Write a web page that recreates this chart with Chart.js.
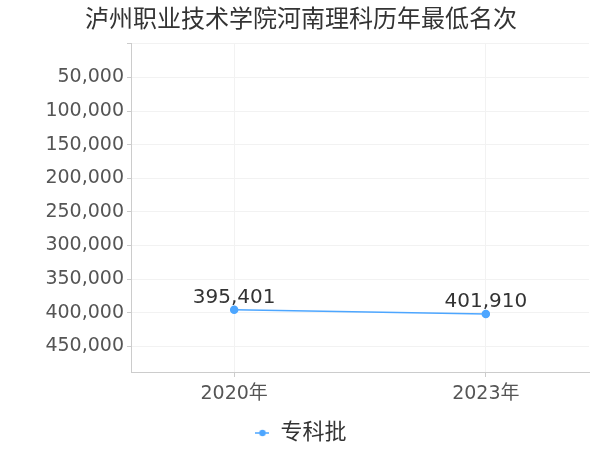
<!DOCTYPE html>
<html>
<head>
<meta charset="utf-8">
<script src="https://cdn.jsdelivr.net/npm/chart.js@4/dist/chart.umd.min.js"></script>
<style>
  html, body { margin: 0; padding: 0; background: #fff; }
  #wrap { width: 600px; height: 450px; }
</style>
</head>
<body>
<div id="wrap"><canvas id="c" width="600" height="450"></canvas></div>
<script>
const categories = ["2020年", "2023年"];
const seriesName = "专科批";
const minRank = [395401, 401910];
const yTicks = [0, 50000, 100000, 150000, 200000, 250000, 300000, 350000, 400000, 450000];

const FONT = '"DejaVu Sans", "Noto Sans CJK SC", sans-serif';
const LINE = "#4da6ff";

// legend marker: short line with a dot
const marker = document.createElement("canvas");
marker.width = 14; marker.height = 8;
(function () {
  const g = marker.getContext("2d");
  g.strokeStyle = LINE; g.lineWidth = 1.5;
  g.beginPath(); g.moveTo(0, 4); g.lineTo(14, 4); g.stroke();
  g.fillStyle = LINE;
  g.beginPath(); g.arc(7, 4, 3.2, 0, Math.PI * 2); g.fill();
})();

// value labels above the points
const valueLabels = {
  id: "valueLabels",
  afterDatasetsDraw(chart) {
    const ctx = chart.ctx;
    const meta = chart.getDatasetMeta(0);
    ctx.save();
    ctx.font = "20px " + FONT;
    ctx.fillStyle = "#333";
    ctx.textAlign = "center";
    ctx.textBaseline = "bottom";
    meta.data.forEach((pt, i) => {
      ctx.fillText(minRank[i].toLocaleString("en-US"), pt.x, pt.y - 2);
    });
    ctx.restore();
  }
};

const ctx = document.getElementById("c").getContext("2d");
new Chart(ctx, {
  type: "line",
  data: {
    datasets: [{
      label: seriesName,
      data: minRank.map((v, i) => ({ x: i, y: v })),
      borderColor: LINE,
      backgroundColor: LINE,
      borderWidth: 1.5,
      pointRadius: 3.5,
      pointHoverRadius: 3.5,
      pointStyle: "circle",
      tension: 0
    }]
  },
  plugins: [valueLabels],
  options: {
    responsive: false,
    animation: false,
    layout: { padding: { left: 13, right: 11, top: 0, bottom: -4 } },
    plugins: {
      title: {
        display: true,
        text: "泸州职业技术学院河南理科历年最低名次",
        color: "#333",
        font: { family: FONT, size: 24, weight: "normal" },
        padding: { top: 6, bottom: 9 }
      },
      legend: {
        position: "bottom",
        labels: {
          usePointStyle: true,
          pointStyle: marker,
          pointStyleWidth: 14,
          color: "#333",
          font: { family: FONT, size: 22 },
          padding: 2
        }
      },
      tooltip: { enabled: false }
    },
    scales: {
      x: {
        type: "linear",
        min: -0.41,
        max: 1.41,
        afterBuildTicks: (axis) => { axis.ticks = categories.map((c, i) => ({ value: i })); },
        afterFit: (axis) => { axis.height = 48; },
        ticks: {
          color: "#555",
          font: { family: FONT, size: 19 },
          padding: 6,
          callback: (v) => categories[v]
        },
        grid: { color: "#f2f2f2", tickColor: "#ccc", tickLength: 5 },
        border: { color: "#ccc" }
      },
      y: {
        reverse: true,
        min: 0,
        max: 488000,
        afterBuildTicks: (axis) => { axis.ticks = yTicks.map((v) => ({ value: v })); },
        afterFit: (axis) => { axis.width = 118; },
        ticks: {
          color: "#555",
          font: { family: FONT, size: 19 },
          padding: 3,
          callback: (v) => (v === 0 ? "" : v.toLocaleString("en-US"))
        },
        grid: { color: "#f2f2f2", tickColor: "#ccc", tickLength: 4 },
        border: { color: "#ccc" }
      }
    }
  }
});
</script>
</body>
</html>
